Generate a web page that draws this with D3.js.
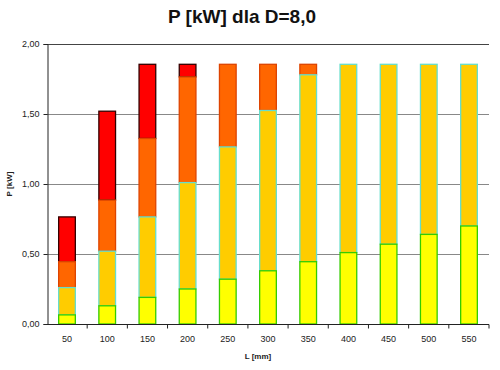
<!DOCTYPE html>
<html>
<head>
<meta charset="utf-8">
<script src="https://cdn.jsdelivr.net/npm/d3@7"></script>
<style>
  body { margin: 0; background: #fff; }
  svg { font-family: 'Liberation Sans', Arial, sans-serif; }
</style>
</head>
<body>
<svg id="chart" width="500" height="370"></svg>
<script>
const lengths = [50, 100, 150, 200, 250, 300, 350, 400, 450, 500, 550];
// stacked segment heights, bottom to top
const yellowPart = [0.065, 0.13, 0.19, 0.25, 0.32, 0.38, 0.445, 0.51, 0.57, 0.64, 0.70];
const amberPart = [0.195, 0.39, 0.575, 0.76, 0.945, 1.145, 1.335, 1.345, 1.285, 1.215, 1.155];
const orangePart = [0.185, 0.365, 0.56, 0.755, 0.59, 0.33, 0.075, 0, 0, 0, 0];
const redPart = [0.32, 0.635, 0.53, 0.09, 0, 0, 0, 0, 0, 0, 0];
const yTicks = [0, 0.5, 1.0, 1.5, 2.0];

const seriesKeys = ['yellow', 'amber', 'orange', 'red'];
const fills = { yellow: '#ffff00', amber: '#ffcc00', orange: '#ff6600', red: '#ff0000' };
const strokes = { yellow: '#33cc00', amber: '#66ddcc', orange: '#dd4400', red: '#330000' };

const rows = lengths.map((l, i) => ({
  l: l,
  yellow: yellowPart[i],
  amber: amberPart[i],
  orange: orangePart[i],
  red: redPart[i]
}));

const svg = d3.select('#chart');
const margin = { left: 47, right: 11, top: 44, bottom: 46 };
const width = 500, height = 370;

const x = d3.scaleBand()
  .domain(lengths)
  .range([margin.left, width - margin.right])
  .paddingInner(0.585)
  .paddingOuter(0.29);
const band = d3.scaleBand().domain(lengths).range([margin.left, width - margin.right]);

const y = d3.scaleLinear().domain([0, 2]).range([height - margin.bottom, margin.top]);

// gridlines
svg.append('g')
  .selectAll('line')
  .data(yTicks.filter(d => d > 0))
  .join('line')
  .attr('x1', margin.left)
  .attr('x2', width - margin.right)
  .attr('y1', d => y(d) + 0.5)
  .attr('y2', d => y(d) + 0.5)
  .attr('stroke', d => d === 2 ? '#444' : '#888')
  .attr('stroke-width', 1);

// title
svg.append('text')
  .attr('x', 242)
  .attr('y', 23)
  .attr('text-anchor', 'middle')
  .attr('font-size', 19)
  .attr('font-weight', 'bold')
  .attr('fill', '#111')
  .text('P [kW] dla D=8,0');

// stacked bars; upper segments drawn first so each lower segment's top edge stays visible
const stacked = d3.stack().keys(seriesKeys)(rows);
svg.append('g')
  .selectAll('g')
  .data(stacked.slice().reverse())
  .join('g')
  .attr('fill', d => fills[d.key])
  .attr('stroke', d => strokes[d.key])
  .attr('stroke-width', 1.3)
  .selectAll('rect')
  .data(d => d.filter(s => s[1] - s[0] > 0))
  .join('rect')
  .attr('x', d => x(d.data.l))
  .attr('width', x.bandwidth())
  .attr('y', d => y(d[1]))
  .attr('height', d => y(d[0]) - y(d[1]));

// axes
const yAxis = svg.append('g')
  .attr('transform', `translate(${margin.left + 0.5},0)`)
  .call(d3.axisLeft(y).tickValues(yTicks).tickSize(4).tickFormat(d => d3.format('.2f')(d).replace('.', ',')));
yAxis.select('.domain').attr('stroke', '#222');
yAxis.selectAll('.tick line').attr('stroke', '#222');
yAxis.selectAll('text').attr('font-size', 9).attr('fill', '#222').attr('dx', -1);

const xAxis = svg.append('g')
  .attr('transform', `translate(0,${height - margin.bottom + 0.5})`);
xAxis.append('line')
  .attr('x1', margin.left)
  .attr('x2', width - margin.right)
  .attr('stroke', '#222');
xAxis.selectAll('line.tick')
  .data(lengths)
  .join('line')
  .attr('class', 'tick')
  .attr('x1', d => band(d) + band.bandwidth())
  .attr('x2', d => band(d) + band.bandwidth())
  .attr('y1', 0)
  .attr('y2', 4)
  .attr('stroke', '#222');
xAxis.selectAll('text')
  .data(lengths)
  .join('text')
  .attr('x', d => x(d) + x.bandwidth() / 2)
  .attr('y', 17)
  .attr('text-anchor', 'middle')
  .attr('font-size', 9)
  .attr('fill', '#222')
  .text(d => d);

// axis titles
svg.append('text')
  .attr('x', 258)
  .attr('y', 359)
  .attr('text-anchor', 'middle')
  .attr('font-size', 8)
  .attr('font-weight', 'bold')
  .attr('fill', '#222')
  .text('L [mm]');

svg.append('text')
  .attr('transform', `translate(12,${y(1)}) rotate(-90)`)
  .attr('text-anchor', 'middle')
  .attr('font-size', 8)
  .attr('font-weight', 'bold')
  .attr('fill', '#222')
  .text('P [kW]');
</script>
</body>
</html>
